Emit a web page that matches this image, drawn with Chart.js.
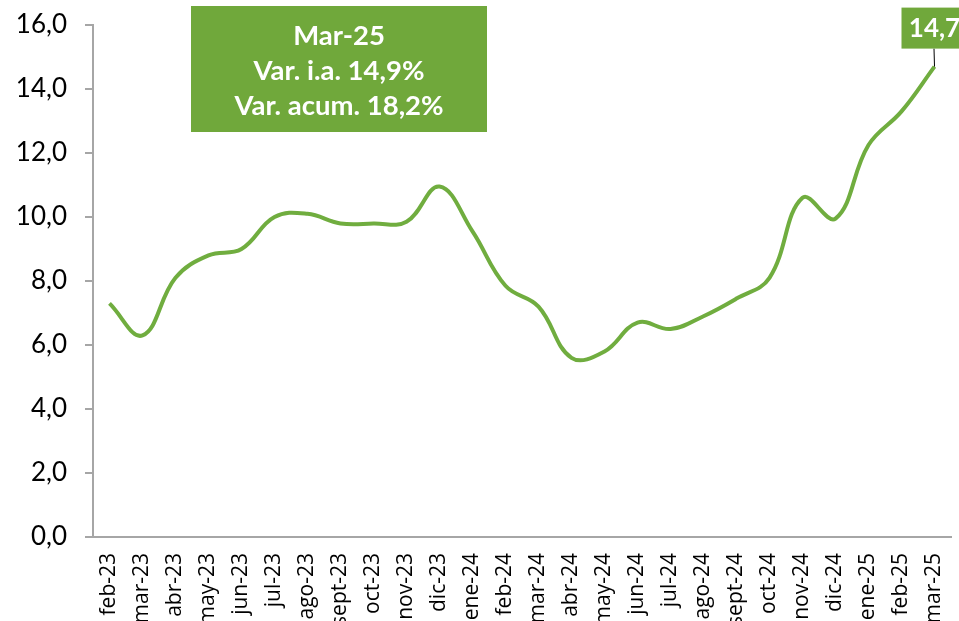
<!DOCTYPE html>
<html>
<head>
<meta charset="utf-8">
<script src="https://cdn.jsdelivr.net/npm/chart.js@4"></script>
<style>
html,body{margin:0;padding:0;background:#fff;overflow:hidden;}
#wrap{width:959px;height:621px;position:relative;}
</style>
</head>
<body>
<div id="wrap"><canvas id="c" width="959" height="621"></canvas></div>
<script>
const categories = ["feb-23","mar-23","abr-23","may-23","jun-23","jul-23","ago-23","sept-23","oct-23","nov-23","dic-23","ene-24","feb-24","mar-24","abr-24","may-24","jun-24","jul-24","ago-24","sept-24","oct-24","nov-24","dic-24","ene-25","feb-25","mar-25"];
const values = [7.3,6.3,8.1,8.8,9.0,10.0,10.1,9.8,9.8,9.85,10.95,9.55,7.85,7.2,5.6,5.8,6.7,6.5,6.9,7.45,8.1,10.6,9.95,12.25,13.3,14.7];
const yTicks = [0,2,4,6,8,10,12,14,16];
const infoLines = ["Mar-25","Var. i.a. 14,9%","Var. acum. 18,2%"];
const lastLabel = "14,7";

const GREEN = '#70A83B';
const FONT = 'Lato, "Open Sans", sans-serif';
const XFONT = '"Open Sans", "Noto Sans", sans-serif';

const overlay = {
  id: 'overlay',
  afterDatasetsDraw(chart) {
    const ctx = chart.ctx;
    const ca = chart.chartArea;
    // info box
    const bx = ca.left + 98, by = ca.top - 19, bw = 296, bh = 126;
    ctx.save();
    ctx.fillStyle = GREEN;
    ctx.fillRect(bx, by, bw, bh);
    ctx.fillStyle = '#fff';
    ctx.font = 'bold 27.5px ' + FONT;
    ctx.textAlign = 'center';
    ctx.textBaseline = 'middle';
    infoLines.forEach((t, i) => ctx.fillText(t, bx + bw / 2, by + 30 + i * 35));
    // last value label
    const meta = chart.getDatasetMeta(0);
    const p = meta.data[meta.data.length - 1];
    const lw = 66, lh = 41;
    const lx = p.x - lw / 2, ly = p.y - 18 - lh;
    ctx.strokeStyle = '#000';
    ctx.lineWidth = 1;
    ctx.beginPath();
    ctx.moveTo(p.x - 0.5, ly + lh);
    ctx.lineTo(p.x, p.y);
    ctx.stroke();
    ctx.fillStyle = GREEN;
    ctx.fillRect(lx, ly, lw, lh);
    ctx.fillStyle = '#fff';
    ctx.font = 'bold 26px ' + FONT;
    ctx.fillText(lastLabel, p.x, ly + lh / 2 + 1);
    ctx.restore();
  }
};

new Chart(document.getElementById('c'), {
  type: 'line',
  data: {
    labels: categories,
    datasets: [{
      data: values,
      borderColor: '#70AD3F',
      borderWidth: 4,
      pointRadius: 0,
      tension: 0.4,
      fill: false
    }]
  },
  options: {
    responsive: false,
    animation: false,
    layout: { padding: { top: 25, right: 8, left: 0, bottom: 0 } },
    plugins: { legend: { display: false }, tooltip: { enabled: false } },
    scales: {
      x: {
        offset: true,
        grid: { display: true, drawOnChartArea: false, drawTicks: false, offset: true },
        border: { display: true, color: '#a6a6a6', width: 2 },
        ticks: {
          color: '#000',
          font: { family: XFONT, size: 21 },
          minRotation: 90, maxRotation: 90,
          autoSkip: false,
          padding: 16
        },
        afterFit(s) { s.height = 84; s.paddingLeft = 0; s.paddingRight = 0; }
      },
      y: {
        min: 0, max: 16,
        afterBuildTicks(s) { s.ticks = yTicks.map(v => ({ value: v })); },
        grid: { display: true, drawOnChartArea: false, drawTicks: true, tickLength: 8, color: '#a6a6a6', lineWidth: 2 },
        border: { display: true, color: '#a6a6a6', width: 2 },
        ticks: {
          color: '#000',
          font: { family: FONT, size: 26 },
          padding: 18,
          callback: v => v.toFixed(1).replace('.', ',')
        },
        afterFit(s) { s.width = 93; s.paddingTop = 0; s.paddingBottom = 0; }
      }
    }
  },
  plugins: [overlay]
});
</script>
</body>
</html>
